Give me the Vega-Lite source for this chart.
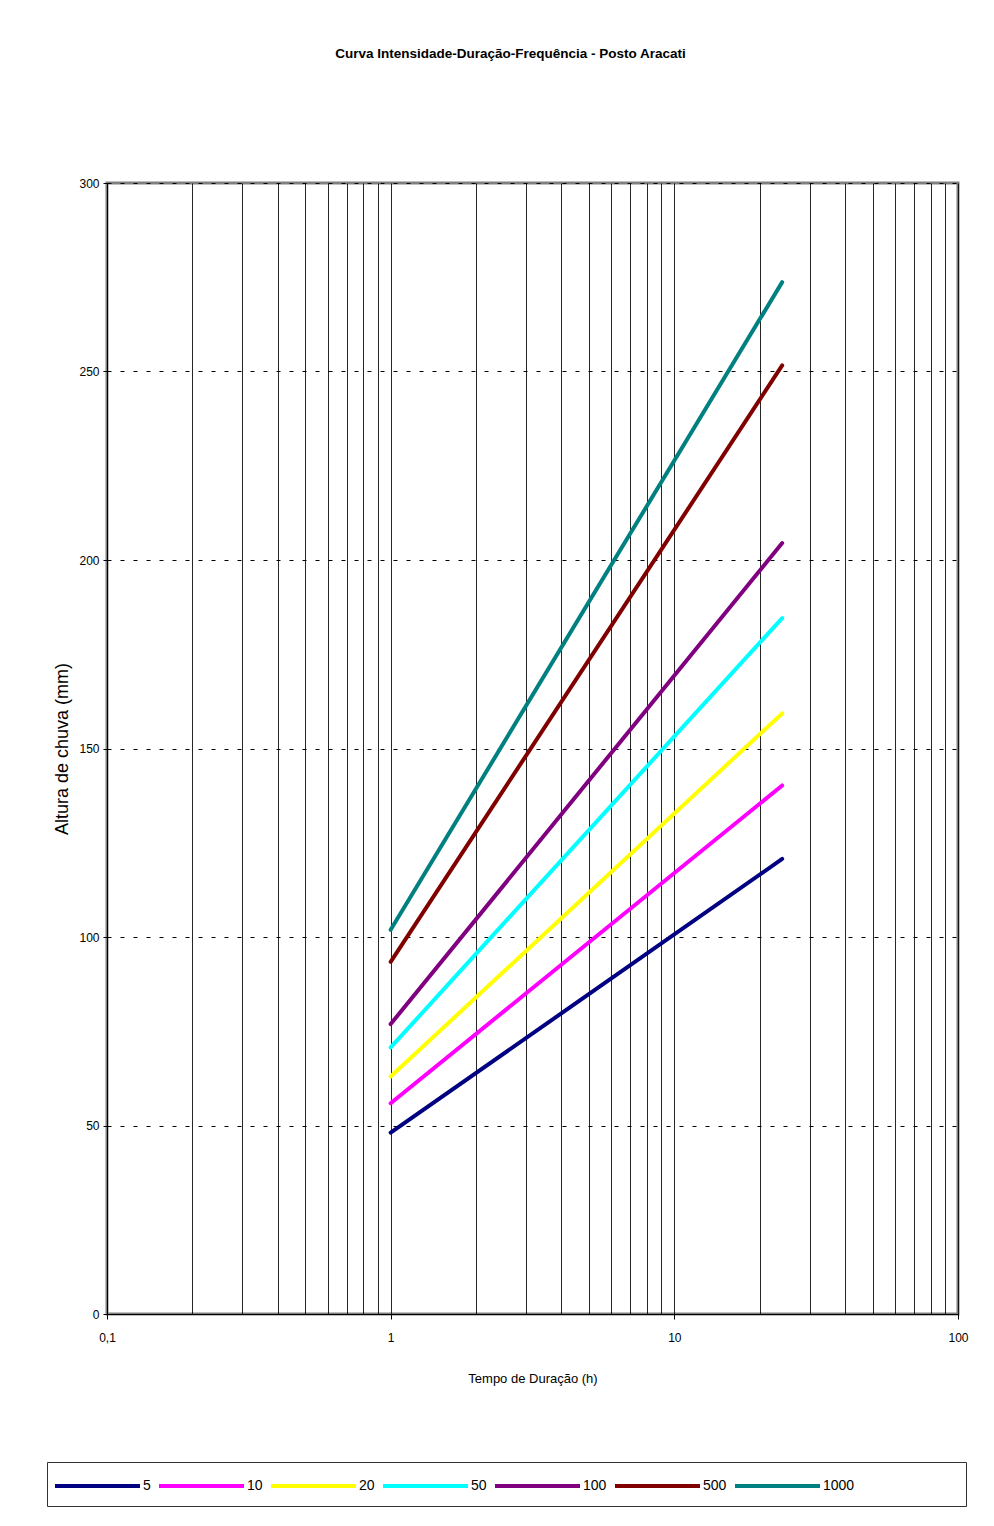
{
  "$schema": "https://vega.github.io/schema/vega-lite/v6.json",
  "width": 851,
  "height": 1131,
  "autosize": {"type": "none"},
  "padding": {"left": 107, "top": 183, "right": 36, "bottom": 212},
  "background": "white",
  "title": {
    "text": "Curva Intensidade-Duração-Frequência - Posto Aracati",
    "font": "Liberation Sans",
    "fontSize": 13.5,
    "fontWeight": "bold",
    "color": "#000",
    "anchor": "middle",
    "dx": -22,
    "offset": 117
  },
  "data": {
    "values": [
      {"TR": "5", "t": 1, "h": 48.1},
      {"TR": "5", "t": 24, "h": 120.7},
      {"TR": "10", "t": 1, "h": 55.9},
      {"TR": "10", "t": 24, "h": 140.2},
      {"TR": "20", "t": 1, "h": 63.0},
      {"TR": "20", "t": 24, "h": 159.3},
      {"TR": "50", "t": 1, "h": 70.7},
      {"TR": "50", "t": 24, "h": 184.6},
      {"TR": "100", "t": 1, "h": 76.9},
      {"TR": "100", "t": 24, "h": 204.5},
      {"TR": "500", "t": 1, "h": 93.4},
      {"TR": "500", "t": 24, "h": 251.6},
      {"TR": "1000", "t": 1, "h": 101.9},
      {"TR": "1000", "t": 24, "h": 273.7}
    ]
  },
  "mark": {"type": "line", "strokeWidth": 4, "strokeCap": "round"},
  "encoding": {
    "x": {
      "field": "t",
      "type": "quantitative",
      "scale": {"type": "log", "domain": [0.1, 100], "nice": false},
      "axis": {
        "title": "Tempo de Duração (h)",
        "titleFont": "Liberation Sans",
        "titleFontSize": 13,
        "titleFontWeight": "normal",
        "titleColor": "#000",
        "titlePadding": 29,
        "values": [0.1, 0.2, 0.3, 0.4, 0.5, 0.6, 0.7, 0.8, 0.9, 1, 2, 3, 4, 5, 6, 7, 8, 9, 10, 20, 30, 40, 50, 60, 70, 80, 90, 100],
        "labelExpr": "indexof([0.1, 1, 10, 100], datum.value) >= 0 ? replace(format(datum.value, ''), '.', ',') : ''",
        "labelOverlap": false,
        "labelBound": false,
        "labelFlush": false,
        "labelFont": "Liberation Sans",
        "labelFontSize": 12,
        "labelColor": "#000",
        "labelPadding": 13,
        "grid": true,
        "gridColor": "#000",
        "gridWidth": 1,
        "gridOpacity": 0.85,
        "tickColor": "#000",
        "tickSize": 5,
        "tickOpacity": {"condition": {"test": "indexof([0.1, 1, 10, 100], datum.value) >= 0", "value": 1}, "value": 0},
        "domainColor": "#000",
        "domainWidth": 1
      }
    },
    "y": {
      "field": "h",
      "type": "quantitative",
      "scale": {"domain": [0, 300], "nice": false},
      "axis": {
        "title": "Altura de chuva (mm)",
        "titleFont": "Liberation Sans",
        "titleFontSize": 18,
        "titleFontWeight": "normal",
        "titleColor": "#000",
        "titlePadding": 7,
        "values": [0, 50, 100, 150, 200, 250, 300],
        "labelFont": "Liberation Sans",
        "labelFontSize": 12,
        "labelColor": "#000",
        "labelPadding": 4,
        "tickSize": 4,
        "tickColor": "#000",
        "grid": true,
        "gridColor": "#000",
        "gridDash": [4, 9],
        "gridWidth": 1,
        "domainColor": "#000",
        "domainWidth": 1
      }
    },
    "color": {
      "field": "TR",
      "type": "nominal",
      "scale": {
        "domain": ["5", "10", "20", "50", "100", "500", "1000"],
        "range": ["#000080", "#FF00FF", "#FFFF00", "#00FFFF", "#800080", "#800000", "#008080"]
      },
      "legend": {
        "title": " ",
        "titleOrient": "right",
        "titlePadding": 100,
        "orient": "none",
        "legendX": -60,
        "legendY": 1279,
        "direction": "horizontal",
        "columns": 7,
        "symbolType": "M-1.6,0H6.9",
        "symbolSize": 400,
        "symbolStrokeWidth": 4,
        "labelFont": "Liberation Sans",
        "labelFontSize": 14,
        "labelColor": "#000",
        "labelOffset": 60,
        "columnPadding": 0,
        "padding": 12,
        "strokeColor": "#333",
        "fillColor": "white"
      }
    }
  },
  "config": {
    "view": {"stroke": "#808080", "strokeWidth": 3}
  }
}
